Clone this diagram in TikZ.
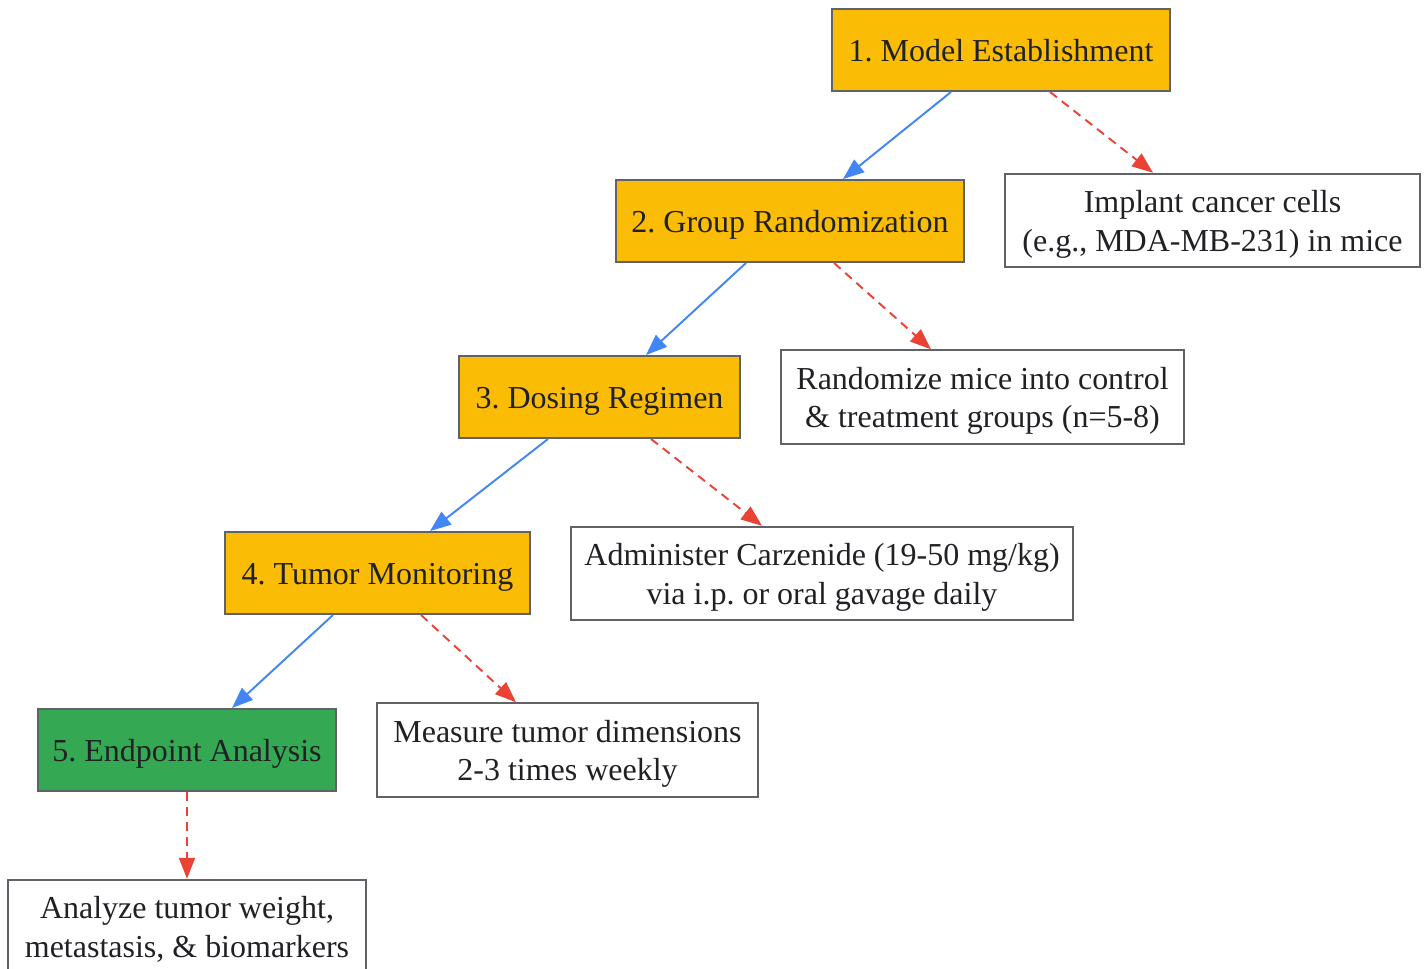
\documentclass[tikz,border=0pt]{standalone}
\usepackage{fontspec}
\setmainfont{Liberation Serif}
\usetikzlibrary{arrows.meta}
\definecolor{stageorange}{RGB}{251,188,5}
\definecolor{stagegreen}{RGB}{52,168,83}
\definecolor{mainblue}{RGB}{66,133,244}
\definecolor{sidered}{RGB}{234,67,53}
\definecolor{boxborder}{RGB}{95,99,104}
\definecolor{inktext}{RGB}{32,33,36}
\frenchspacing
\newcommand{\tstrut}{\rule[-4pt]{0pt}{21pt}}

\begin{document}
\begin{tikzpicture}
            \tikzstyle{every node} = [font=\fontsize{18.2}{22}\selectfont, text=inktext, align=center, inner sep=0pt]
            \tikzstyle{stagebox} = [draw=boxborder, line width=1.1pt, minimum height=1.64cm]
            \tikzstyle{notebox} = [draw=boxborder, line width=1.1pt, fill=white, minimum height=1.87cm]
            \tikzstyle{mainflow} = [draw=mainblue, line width=1.1pt, -{Triangle[length=0.42cm, width=0.32cm]}]
            \tikzstyle{sideflow} = [draw=sidered, line width=1.1pt, dash pattern=on 5pt off 3.5pt, -{Triangle[length=0.42cm, width=0.32cm]}]
            \useasboundingbox (0, 0) rectangle (28.56, -19.38);

            \node[stagebox, fill=stageorange, minimum width=6.76cm] (model) at (20.02, -1.00) {\tstrut 1. Model Establishment};
            \node[notebox, minimum width=8.30cm] (implant) at (24.25, -4.41) {\tstrut Implant cancer cells\\\tstrut (e.g., MDA-MB-231) in mice};
            \node[stagebox, fill=stageorange, minimum width=6.96cm] (group) at (15.80, -4.42) {\tstrut 2. Group Randomization};
            \node[notebox, minimum width=8.06cm] (randomize) at (19.65, -7.94) {\tstrut Randomize mice into control\\\tstrut \& treatment groups (n=5-8)};
            \node[stagebox, fill=stageorange, minimum width=5.62cm] (dosing) at (11.99, -7.94) {\tstrut 3. Dosing Regimen};
            \node[notebox, minimum width=10.04cm] (administer) at (16.44, -11.47) {\tstrut Administer Carzenide (19-50 mg/kg)\\\tstrut via i.p. or oral gavage daily};
            \node[stagebox, fill=stageorange, minimum width=6.10cm] (monitor) at (7.55, -11.46) {\tstrut 4. Tumor Monitoring};
            \node[notebox, minimum width=7.62cm] (measure) at (11.35, -15.00) {\tstrut Measure tumor dimensions\\\tstrut 2-3 times weekly};
            \node[stagebox, fill=stagegreen, minimum width=5.96cm] (endpoint) at (3.74, -15.00) {\tstrut 5. Endpoint Analysis};
            \node[notebox, minimum width=7.16cm] (analyze) at (3.74, -18.53) {\tstrut Analyze tumor weight,\\\tstrut metastasis, \& biomarkers};

            % main sequence
            \draw[mainflow] ([xshift=-1.00cm]model.south) -- ([xshift=1.06cm]group.north);
            \draw[mainflow] ([xshift=-0.88cm]group.south) -- ([xshift=0.93cm]dosing.north);
            \draw[mainflow] ([xshift=-1.03cm]dosing.south) -- ([xshift=1.05cm]monitor.north);
            \draw[mainflow] ([xshift=-0.89cm]monitor.south) -- ([xshift=0.90cm]endpoint.north);

            % details
            \draw[sideflow] ([xshift=0.98cm]model.south) -- ([xshift=-1.19cm]implant.north);
            \draw[sideflow] ([xshift=0.88cm]group.south) -- ([xshift=-1.03cm]randomize.north);
            \draw[sideflow] ([xshift=1.03cm]dosing.south) -- ([xshift=-1.20cm]administer.north);
            \draw[sideflow] ([xshift=0.87cm]monitor.south) -- ([xshift=-1.03cm]measure.north);
            \draw[sideflow] (endpoint.south) -- (analyze.north);
        \end{tikzpicture}
\end{document}
